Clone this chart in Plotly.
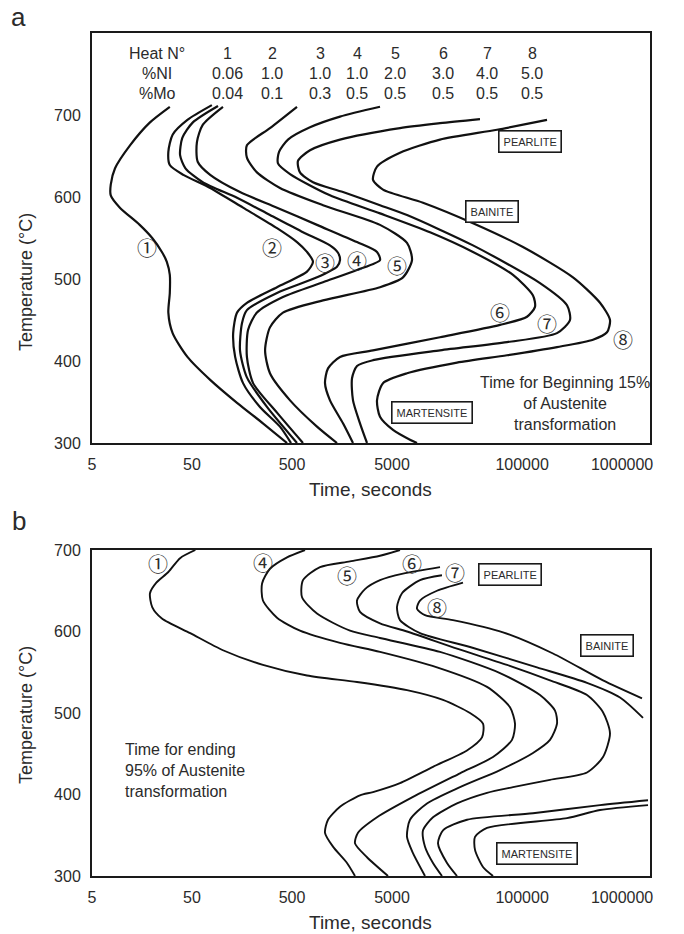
import math
import plotly.graph_objects as go

# ---------------- Panel a: start of transformation (15%) ----------------
a1_temp = [710, 691, 663, 635, 615, 602, 587, 566, 550, 533, 521, 505, 483, 459, 434, 405, 377, 349, 324, 300]
a1_time = [30, 19, 12, 8.5, 7.7, 7.7, 9.5, 15, 20, 25, 28, 30, 30, 29, 32, 45, 76, 141, 256, 446]

a2_temp = [712, 694, 676, 655, 639, 627, 611, 587, 562, 545, 533, 521, 509, 490, 471, 459, 434, 405, 373, 344, 320, 300]
a2_time = [79, 45, 32, 29, 30, 41, 76, 162, 354, 561, 706, 811, 706, 354, 177, 141, 129, 135, 162, 239, 379, 489]

a3_temp = [711, 691, 672, 651, 635, 618, 599, 578, 557, 541, 532, 523, 515, 502, 483, 462, 446, 413, 380, 344, 300]
a3_time = [91, 51, 40, 38, 43, 64, 141, 301, 644, 1199, 1442, 1510, 1409, 889, 354, 177, 158, 151, 177, 281, 561]

a4_temp = [710, 688, 667, 643, 627, 606, 587, 566, 545, 533, 523, 511, 496, 478, 459, 438, 405, 373, 337, 300]
a4_time = [102, 64, 56, 57, 76, 151, 354, 889, 2234, 3540, 3793, 2234, 1021, 406, 223, 182, 177, 204, 354, 644]

a5_temp = [710, 684, 663, 648, 630, 611, 590, 566, 544, 523, 502, 490, 474, 459, 441, 413, 385, 352, 320, 300]
a5_time = [561, 301, 177, 177, 223, 379, 1021, 3793, 7063, 7925, 6442, 3793, 1021, 406, 301, 269, 301, 478, 889, 1409]

a6_temp = [710, 698, 685, 670, 655, 641, 628, 602, 580, 557, 533, 505, 480, 466, 454, 444, 429, 413, 405, 391, 373, 352, 324, 300]
a6_time = [3793, 1510, 757, 456, 371, 362, 478, 1199, 3793, 12000, 32280, 81100, 128500, 134600, 112000, 60100, 15100, 3228, 1510, 1146, 1069, 1199, 1618, 2037]

a7_temp = [695, 690, 684, 670, 657, 644, 630, 618, 606, 590, 578, 541, 495, 468, 450, 434, 423, 413, 401, 394, 379, 352, 324, 300]
a7_time = [37930, 15100, 6012, 1510, 757, 574, 601, 811, 1618, 3793, 7063, 32280, 151000, 281200, 301300, 223400, 70630, 15100, 3228, 2234, 1991, 2037, 2393, 2812]

a8_temp = [694, 682, 670, 654, 637, 621, 609, 593, 568, 539, 502, 471, 450, 435, 426, 417, 407, 398, 385, 373, 352, 332, 316, 304, 300]
a8_time = [177400, 56100, 15100, 6012, 3540, 3228, 4064, 10210, 32280, 102000, 322800, 601200, 756800, 706300, 511700, 223400, 70630, 22340, 7063, 4064, 3540, 3793, 5117, 7568, 8892]

a_curves = [(a1_time, a1_temp), (a2_time, a2_temp), (a3_time, a3_temp), (a4_time, a4_temp),
            (a5_time, a5_temp), (a6_time, a6_temp), (a7_time, a7_temp), (a8_time, a8_temp)]

a_label_text = ["①", "②", "③", "④", "⑤", "⑥", "⑦", "⑧"]
a_label_time = [17.7, 315, 1069, 2234, 5610, 60100, 177400, 1020000]
a_label_temp = [538, 538, 520, 523, 517, 459, 446, 426]

# ---------------- Panel b: end of transformation (95%) ----------------
b1_temp = [700, 690, 673, 660, 647, 630, 616, 598, 577, 559, 546, 538, 528, 516, 500, 487, 470, 454, 434, 414, 403, 399, 385, 369, 353, 336, 316, 300]
b1_time = [54, 38, 29, 22, 19, 20, 25, 48, 102, 256, 706, 2234, 7063, 16180, 30130, 40640, 39720, 28120, 12850, 6012, 3228, 2393, 1510, 1146, 1069, 1285, 1774, 2133]

b4_temp = [700, 691, 677, 659, 638, 617, 601, 586, 575, 556, 532, 507, 487, 467, 446, 426, 397, 372, 353, 340, 323, 300]
b4_time = [675, 446, 301, 251, 256, 354, 601, 1510, 3793, 14090, 44570, 75680, 84920, 79250, 51170, 23930, 8110, 3540, 2286, 2133, 2812, 4560]

b5_temp = [700, 693, 686, 679, 663, 642, 622, 601, 592, 575, 549, 522, 503, 487, 467, 451, 430, 409, 389, 369, 348, 328, 300]
b5_time = [6012, 3793, 1901, 953, 644, 630, 889, 1901, 3793, 15100, 60120, 151000, 213300, 223400, 190100, 128500, 60120, 23930, 11190, 7568, 7063, 8110, 10690]

b6_temp = [679, 671, 663, 652, 638, 624, 610, 600, 579, 559, 540, 522, 501, 475, 446, 427, 418, 409, 402, 389, 372, 356, 336, 316, 300]
b6_time = [15100, 6442, 3793, 2685, 2234, 2393, 3793, 7063, 22340, 70630, 190100, 445700, 644200, 756800, 644200, 445700, 190100, 81100, 44570, 22340, 12850, 10210, 10690, 12850, 15810]

b7_temp = [669, 663, 647, 630, 614, 598, 581, 556, 537, 519, 494]
b7_time = [15810, 9528, 6295, 5610, 6012, 9528, 30130, 140900, 445700, 952800, 1618000]

b8_temp = [660, 650, 638, 628, 620, 614, 599, 573, 540, 518]
b8_time = [25640, 14090, 9528, 8892, 10690, 20370, 64420, 203700, 644200, 1581000]

b7_low_temp = [393, 387, 377, 369, 356, 340, 316, 300]
b7_low_time = [1816000, 601200, 128500, 28120, 16180, 14420, 17740, 22340]

b8_low_temp = [387, 381, 371, 359, 348, 332, 311, 300]
b8_low_time = [1816000, 601200, 281200, 44570, 33810, 33810, 40640, 51170]

b_curves = [(b1_time, b1_temp), (b4_time, b4_temp), (b5_time, b5_temp), (b6_time, b6_temp),
            (b7_time, b7_temp), (b8_time, b8_temp), (b7_low_time, b7_low_temp), (b8_low_time, b8_low_temp)]

b_label_text = ["①", "④", "⑤", "⑥", "⑦", "⑧"]
b_label_time = [22.9, 256, 1774, 7925, 21330, 14090]
b_label_temp = [684, 685, 669, 684, 673, 630]

# ---------------- Header table (panel a) ----------------
heat_rows = ["Heat N°", "%NI", "%Mo"]
heat_no = ["1", "2", "3", "4", "5", "6", "7", "8"]
pct_ni = ["0.06", "1.0", "1.0", "1.0", "2.0", "3.0", "4.0", "5.0"]
pct_mo = ["0.04", "0.1", "0.3", "0.5", "0.5", "0.5", "0.5", "0.5"]

x_tickvals = [5, 50, 500, 5000, 100000, 1000000]
x_ticktext = ["5", "50", "500", "5000", "100000", "1000000"]
y_tickvals = [300, 400, 500, 600, 700]

# ---------------- Layout geometry ----------------
W, H = 684, 934
ML, MR, MT, MB = 92, 34, 33, 58
PW, PH = W - ML - MR, H - MT - MB


def px(x):
    return (x - ML) / PW


def py(y):
    return (H - MB - y) / PH


FONT = "Arial, Liberation Sans, sans-serif"
CIRC = "Noto Sans CJK JP, DejaVu Sans"
TXT = "#2b2b2b"
LINE = "#111111"

fig = go.Figure()
for t, T in a_curves:
    fig.add_trace(go.Scatter(x=t, y=T, mode="lines", xaxis="x", yaxis="y",
                             line=dict(color=LINE, width=2.2, shape="spline", smoothing=0.7),
                             hoverinfo="skip"))
for t, T in b_curves:
    fig.add_trace(go.Scatter(x=t, y=T, mode="lines", xaxis="x2", yaxis="y2",
                             line=dict(color=LINE, width=1.9, shape="spline", smoothing=0.7),
                             hoverinfo="skip"))

xr = [math.log10(5), 6.279]
axis_common = dict(showgrid=False, zeroline=False, showline=True, mirror=True,
                   linecolor="#1a1a1a", linewidth=2, ticks="outside", ticklen=6,
                   tickcolor="rgba(0,0,0,0)", tickfont=dict(family=FONT, size=16, color=TXT))

fig.update_layout(
    width=W, height=H,
    margin=dict(l=ML, r=MR, t=MT, b=MB),
    paper_bgcolor="white", plot_bgcolor="white",
    showlegend=False,
    font=dict(family=FONT, color=TXT),
    xaxis=dict(type="log", range=xr, domain=[0, 1], anchor="y",
               tickvals=x_tickvals, ticktext=x_ticktext, **axis_common),
    yaxis=dict(range=[300, 800], domain=[py(443), 1], anchor="x",
               tickvals=y_tickvals, **axis_common),
    xaxis2=dict(type="log", range=xr, domain=[0, 1], anchor="y2",
                tickvals=x_tickvals, ticktext=x_ticktext, **axis_common),
    yaxis2=dict(range=[300, 700], domain=[0, py(550)], anchor="x2",
                tickvals=y_tickvals, **axis_common),
)

ann = []


def note(text, x, y, size=16, family=FONT, xref="paper", yref="paper", xanchor="center", **kw):
    d = dict(x=x, y=y, xref=xref, yref=yref, text=text, showarrow=False,
             xanchor=xanchor, yanchor="middle", font=dict(family=family, size=size, color=TXT))
    d.update(kw)
    return d


# circled heat numbers
for s, t, T in zip(a_label_text, a_label_time, a_label_temp):
    ann.append(note(s, math.log10(t), T, size=20, family=CIRC, xref="x", yref="y"))
for s, t, T in zip(b_label_text, b_label_time, b_label_temp):
    ann.append(note(s, math.log10(t), T, size=20, family=CIRC, xref="x2", yref="y2"))

# header table
col_x = [227, 272, 320, 357, 395, 443, 487, 532]
row_y = [53, 74, 93]
for r, (name, vals) in enumerate(zip(heat_rows, [heat_no, pct_ni, pct_mo])):
    ann.append(note(name, px(157), py(row_y[r])))
    for cx, v in zip(col_x, vals):
        ann.append(note(v, px(cx), py(row_y[r])))


def boxed(text, x, y):
    return note(text, px(x), py(y), size=11, bordercolor="#1a1a1a",
                borderwidth=1.6, borderpad=4, bgcolor="white")


ann += [boxed("PEARLITE", 530, 141), boxed("BAINITE", 492, 212), boxed("MARTENSITE", 432, 412),
        boxed("PEARLITE", 510, 575), boxed("BAINITE", 607, 645), boxed("MARTENSITE", 537, 853)]

ann.append(note("Time for Beginning 15%<br>of Austenite<br>transformation", px(565), py(403),
                align="center"))
ann.append(note("Time for ending<br>95% of Austenite<br>transformation", px(123), py(770),
                xanchor="left", align="left"))

# axis titles and panel letters
for yc in (282, 715):
    ann.append(note("Temperature (°C)", px(26), py(yc), size=18, textangle=-90))
for yc in (490, 922):
    ann.append(note("Time, seconds", px(370), py(yc), size=19))
ann.append(note("a", px(19), py(17), size=26))
ann.append(note("b", px(19), py(521), size=26))

fig.update_layout(annotations=ann)
fig.write_html("out.html")
